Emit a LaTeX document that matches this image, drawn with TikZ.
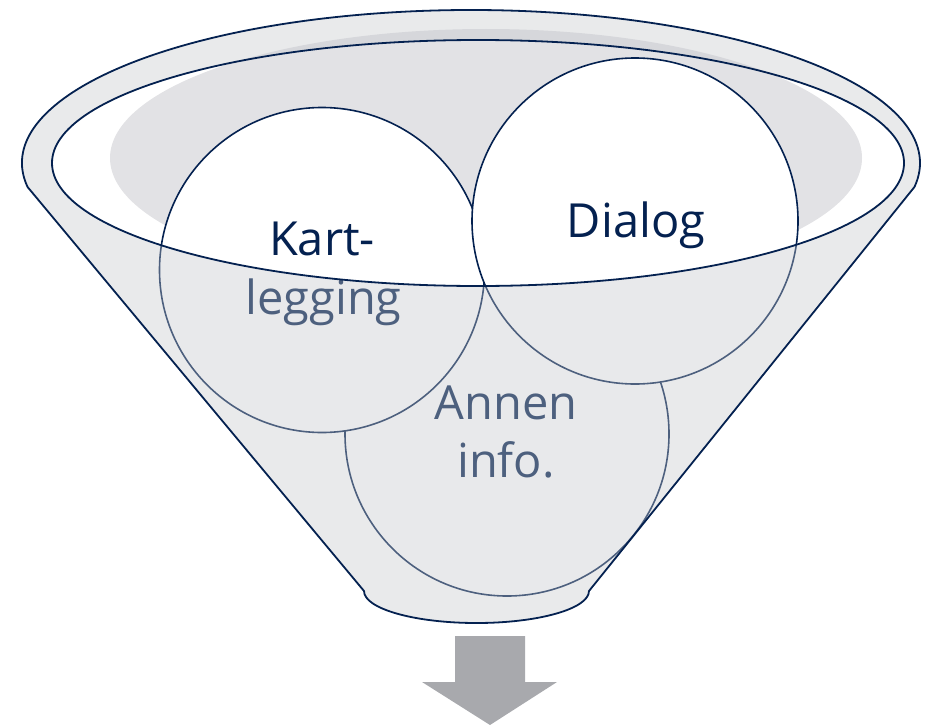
\documentclass[tikz,border=0pt]{standalone}
\usepackage{fontspec}
\setmainfont{Open Sans}
\definecolor{navy}{RGB}{4,33,80}
\definecolor{bodyc}{RGB}{197,199,203}
\definecolor{greyin}{RGB}{226,226,229}
\definecolor{arrowc}{RGB}{168,169,173}
\begin{document}
\begin{tikzpicture}[x=1pt,y=-1pt,
  bubble/.style={circle, draw=navy, fill=white, line width=1.6pt, inner sep=0pt, outer sep=0pt},
  lbl/.style={anchor=base, inner sep=0pt, text=navy, font=\fontsize{47}{56}\selectfont},
  edge/.style={draw=navy, line width=1.8pt, line join=round}]
\useasboundingbox (0,0) rectangle (941,725);
% inner shadow of the funnel mouth
\fill[greyin] (486,158) ellipse [x radius=376, y radius=129];
% circles
\node[bubble, minimum size=324pt] (annen) at (507,434) {};
\node[bubble, minimum size=325pt] (kart) at (322,270) {};
\node[bubble, minimum size=326pt] (dialog) at (635,221) {};
% texts
\node[lbl] (kart1) at (322,255) {Kart-};
\node[lbl] (kart2) at (323.5,314) {legging};
\node[lbl] (dia) at (636,237) {Dialog};
\node[lbl] (ann1) at (506,419) {Annen};
\node[lbl] (ann2) at (506,477) {info.};
% translucent funnel body
\fill[bodyc, fill opacity=0.38, even odd rule]
  (27.53,186.93) arc [start angle=171, end angle=369, x radius=449, y radius=153]
  -- (589,591) arc [start angle=0, end angle=180, x radius=112.5, y radius=32]
  -- cycle
  (478,163) ellipse [x radius=426, y radius=123];
% outlines
\draw[edge]
  (27.53,186.93) arc [start angle=171, end angle=369, x radius=449, y radius=153]
  -- (589,591) arc [start angle=0, end angle=180, x radius=112.5, y radius=32]
  -- cycle;
\draw[edge] (478,163) ellipse [x radius=426, y radius=123];
% down arrow
\fill[arrowc] (455,636) -- (525,636) -- (525,682) -- (557,682) -- (490,725)
  -- (422,682) -- (455,682) -- cycle;
\end{tikzpicture}
\end{document}
